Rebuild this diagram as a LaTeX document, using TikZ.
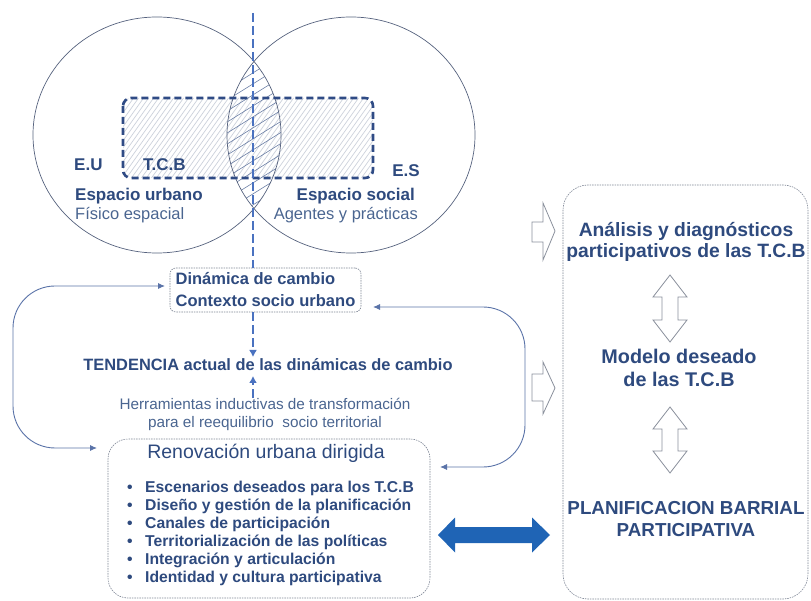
\documentclass[tikz,border=0pt]{standalone}
\usepackage{fontspec}
\setmainfont{Liberation Sans}
\usetikzlibrary{arrows.meta}
\definecolor{navy}{HTML}{2E4A7E}
\definecolor{txtgray}{HTML}{4A6590}
\definecolor{dashblue}{HTML}{4A72C0}
\definecolor{rectnavy}{HTML}{2F4B85}
\definecolor{circ}{HTML}{56627E}
\definecolor{hatchlight}{HTML}{CDD2DC}
\definecolor{hatchdark}{HTML}{6F82A8}
\definecolor{boxgray}{HTML}{7C8494}
\definecolor{loopblue}{HTML}{5A73A8}
\definecolor{bigblue}{HTML}{1F64B5}
\definecolor{hollow}{HTML}{8A909C}
\newcommand{\fs}[2]{\fontsize{#1}{#2}\selectfont}
\tikzset{
  lbl/.style={text=navy, inner sep=0pt, font=\bfseries\fs{17}{19}},
  lblr/.style={text=txtgray, inner sep=0pt, font=\fs{16.5}{19}},
  bul/.style={text=navy, inner sep=0pt, font=\bfseries\fs{15.7}{18}},
  thinbox/.style={draw=boxgray, line width=0.6pt, dash pattern=on 1.5pt off 1pt},
  vdash/.style={dashblue, line width=2.6pt, dash pattern=on 9pt off 4pt},
  looparrow/.style={loopblue, line width=0.9pt, rounded corners=42pt, {Latex[length=7pt,width=6pt]}-{Latex[length=7pt,width=6pt]}},
  hollowarrow/.style={draw=hollow, fill=white, line width=0.8pt, line join=miter},
}
\begin{document}
\begin{tikzpicture}[x=1pt,y=-1pt]
\useasboundingbox (0,0) rectangle (811,601);
% light hatch in the T.C.B rectangle
\begin{scope}
  \clip[rounded corners=8pt] (123,98) rectangle (373,178);
  \foreach \i in {40,45,...,380} \draw[hatchlight, line width=0.7pt] (\i,180) -- ++(60,-84);
\end{scope}
% darker hatch in the lens
\begin{scope}
  \clip (157,135) ellipse [x radius=124, y radius=118];
  \clip (351,135) ellipse [x radius=124, y radius=118];
  \foreach \j in {40,51,...,400} \draw[hatchdark, line width=0.6pt] (200,\j) -- ++(120,-75);
\end{scope}
% circles
\draw[circ, line width=0.7pt] (157,135) ellipse [x radius=124, y radius=118];
\draw[circ, line width=0.7pt] (351,135) ellipse [x radius=124, y radius=118];
% T.C.B rectangle
\draw[rectnavy, line width=2.6pt, dash pattern=on 7pt off 4pt, rounded corners=8pt] (123,98) rectangle (373,178);
% labels of the circles
\node[lbl, anchor=base west] (eu) at (74,171) {E.U};
\node[lbl, anchor=base west] (tcb) at (143,171) {T.C.B};
\node[lbl, anchor=base east] (es) at (420,177) {E.S};
\node[lbl, anchor=base west] (eurb) at (75,201) {Espacio urbano};
\node[lblr, anchor=base west] (fis) at (75,220) {Físico espacial};
\node[lbl, anchor=base east] (esoc) at (415,201) {Espacio social};
\node[lblr, anchor=base east] (agen) at (418,220) {Agentes y prácticas};
% dinamica box
\node[thinbox, rounded corners=6pt, minimum width=191pt, minimum height=44pt, text=navy, font=\bfseries\fs{16.5}{22}, align=left, inner sep=2pt] (din) at (265.5,290) {Dinámica de cambio\\Contexto socio urbano};
% tendencia
\node[text=navy, font=\bfseries\fs{16.4}{19}, inner sep=1pt] (tend) at (268,365) {TENDENCIA actual de las dinámicas de cambio};
% herramientas
\node[text=txtgray, font=\fs{15.3}{18}, align=center, inner sep=1pt] (herr) at (265,414) {Herramientas inductivas de transformación\\para el reequilibrio\ \ socio territorial};
% renovacion box
\node[thinbox, rounded corners=20pt, minimum width=322pt, minimum height=159pt] (ren) at (269,518.5) {};
\node[text=navy, font=\fs{19.5}{22}, inner sep=0pt] (rent) at (266,453) {Renovación urbana dirigida};
\foreach \t [count=\k] in {Escenarios deseados para los T.C.B, Diseño y gestión de la planificación, Canales de participación, Territorialización de las políticas, Integración y articulación, Identidad y cultura participativa}
  \node[bul, anchor=base west] (b\k) at (127,{492+18*(\k-1)}) {\makebox[18pt][l]{•}\t};
% vertical dashed connectors
\coordinate (vtop) at (253,13);
\draw[vdash] (vtop) -- (vtop |- din.north);
\draw[vdash, -{Latex[length=7pt,width=8pt]}] (vtop |- din.south) -- (253,357);
\draw[vdash, -{Latex[length=7pt,width=8pt]}] (253,398) -- (253,376);
% loops
\coordinate (la) at (97,448);
\coordinate (lb) at (165,286);
\draw[looparrow] (la) -- (13,448) -- (13,286) -- (lb);
\coordinate (ra) at (373,307);
\coordinate (rb) at (440,467);
\draw[looparrow] (ra) -- (525,307) -- (525,467) -- (rb);
% right box
\draw[thinbox, rounded corners=25pt] (563,185) rectangle (808,599);
\node[text=navy, font=\bfseries\fs{19.3}{20.5}, align=center, inner sep=1pt] (ana) at (686,242) {Análisis y diagnósticos\\participativos de las T.C.B};
\node[text=navy, font=\bfseries\fs{19.8}{23}, align=center, inner sep=1pt] (mod) at (679,368) {Modelo deseado\\de las T.C.B};
\node[text=navy, font=\bfseries\fs{18.8}{22}, align=center, inner sep=1pt] (plan) at (686,519) {PLANIFICACION BARRIAL\\PARTICIPATIVA};
% hollow arrows right
\draw[hollowarrow] (532,222) -- (543,222) -- (543,203) -- (555,231) -- (543,260) -- (543,242) -- (532,242) -- cycle;
\draw[hollowarrow] (532,374) -- (543,374) -- (543,362) -- (555,388) -- (543,414) -- (543,401) -- (532,401) -- cycle;
% vertical hollow double arrows
\draw[hollowarrow] (670,275) -- (687,297) -- (678,297) -- (678,320) -- (687,320) -- (670,342) -- (653,320) -- (662,320) -- (662,297) -- (653,297) -- cycle;
\draw[hollowarrow] (670,407) -- (687,429) -- (678,429) -- (678,451) -- (687,451) -- (670,473) -- (653,451) -- (662,451) -- (662,429) -- (653,429) -- cycle;
% big blue double arrow
\fill[bigblue] (438,535) -- (455,517.5) -- (455,527) -- (532,527) -- (532,517.5) -- (550,535) -- (532,552.5) -- (532,543) -- (455,543) -- (455,552.5) -- cycle;
\end{tikzpicture}
\end{document}
